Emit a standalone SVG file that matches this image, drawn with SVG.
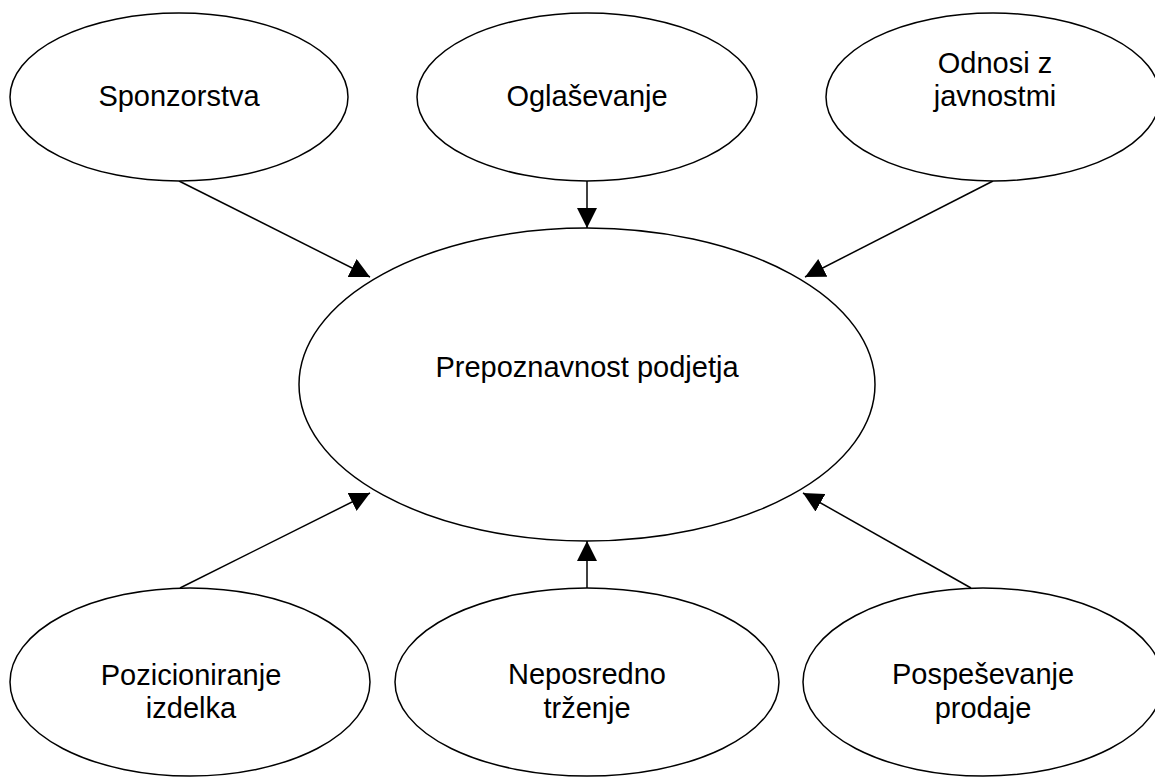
<svg xmlns="http://www.w3.org/2000/svg" width="1155" height="778" viewBox="0 0 1155 778">
  <style>
    .node ellipse { fill: #ffffff; stroke: #000000; stroke-width: 1.5; }
    .node text { font-family: "Liberation Sans", Arial, sans-serif; font-size: 29px; fill: #000000; text-anchor: middle; }
    .edges line { stroke: #000000; stroke-width: 1.5; marker-end: url(#arrow); }
  </style>
  <defs>
    <marker id="arrow" markerUnits="userSpaceOnUse" markerWidth="20" markerHeight="20" refX="20" refY="10" orient="auto">
      <path d="M0,0 L20,10 L0,20 Z" fill="#000000"/>
    </marker>
  </defs>
  <rect width="1155" height="778" fill="#ffffff"/>

  <!-- connectors -->
  <g id="edges" class="edges">
    <line x1="179" y1="181" x2="370" y2="277"/>
    <line x1="587" y1="181" x2="587" y2="228"/>
    <line x1="993" y1="181" x2="805" y2="277"/>
    <line x1="180" y1="588" x2="370" y2="493"/>
    <line x1="587" y1="588" x2="587" y2="541"/>
    <line x1="971" y1="588" x2="803" y2="493"/>
  </g>

  <!-- central node -->
  <g id="prepoznavnost" class="node">
    <ellipse cx="587" cy="384.5" rx="288" ry="156.5"/>
    <text x="587" y="377">Prepoznavnost podjetja</text>
  </g>

  <!-- upper row -->
  <g id="sponzorstva" class="node">
    <ellipse cx="179" cy="97" rx="169" ry="84"/>
    <text x="179" y="106">Sponzorstva</text>
  </g>
  <g id="oglasevanje" class="node">
    <ellipse cx="587" cy="97" rx="170" ry="84"/>
    <text x="587" y="106">Oglaševanje</text>
  </g>
  <g id="odnosi" class="node">
    <ellipse cx="993" cy="97" rx="167" ry="84"/>
    <text x="995" y="73">Odnosi z</text>
    <text x="995" y="106">javnostmi</text>
  </g>

  <!-- lower row -->
  <g id="pozicioniranje" class="node">
    <ellipse cx="190" cy="682" rx="180" ry="94"/>
    <text x="191" y="685">Pozicioniranje</text>
    <text x="191" y="718">izdelka</text>
  </g>
  <g id="neposredno" class="node">
    <ellipse cx="587" cy="682" rx="192" ry="94"/>
    <text x="587" y="684">Neposredno</text>
    <text x="587" y="718">trženje</text>
  </g>
  <g id="pospesevanje" class="node">
    <ellipse cx="983" cy="682" rx="180" ry="94"/>
    <text x="983" y="684">Pospeševanje</text>
    <text x="983" y="718">prodaje</text>
  </g>
</svg>
